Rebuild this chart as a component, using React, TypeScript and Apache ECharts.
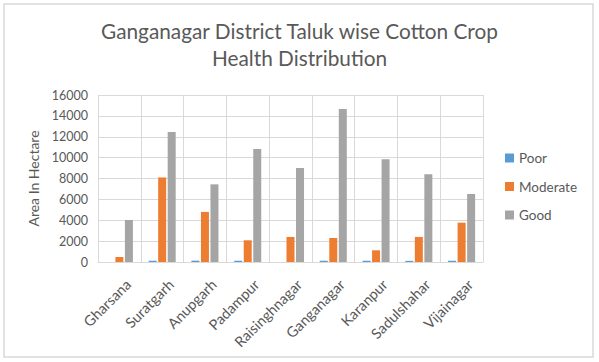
import React, { useEffect, useRef } from "react";
import * as echarts from "echarts";

const categories = ["Gharsana", "Suratgarh", "Anupgarh", "Padampur", "Raisinghnagar", "Ganganagar", "Karanpur", "Sadulshahar", "Vijainagar"];
const poor = [0, 120, 130, 120, 0, 120, 120, 110, 120];
const moderate = [480, 8100, 4800, 2080, 2400, 2300, 1120, 2400, 3770];
const good = [4020, 12460, 7440, 10830, 9010, 14660, 9840, 8400, 6520];
const yTicks = { min: 0, max: 16000, interval: 2000 };

const FONT = "Lato, 'Open Sans', sans-serif";
const TXT = "#595959";
const GRID = "#d9d9d9";

export default function App() {
  const ref = useRef<HTMLDivElement>(null);
  useEffect(() => {
    const chart = echarts.init(ref.current!, null, { renderer: "svg" });
    chart.setOption({
      animation: false,
      backgroundColor: "#ffffff",
      textStyle: { fontFamily: FONT },
      title: {
        text: "Ganganagar District Taluk wise Cotton Crop\nHealth Distribution",
        left: "center",
        top: 12,
        textStyle: { fontFamily: FONT, fontSize: 20.8, fontWeight: "normal", color: TXT, lineHeight: 26.7 },
      },
      graphic: [
        {
          type: "rect",
          shape: { x: 4, y: 4, width: 589, height: 353 },
          style: { fill: "none", stroke: GRID, lineWidth: 1.5 },
          silent: true,
        },
      ],
      legend: {
        orient: "vertical",
        left: 500,
        top: 146,
        icon: "rect",
        itemWidth: 9,
        itemHeight: 9,
        itemGap: 14.5,
        itemTextGap: 5,
        textStyle: { fontFamily: FONT, fontSize: 13.5, color: TXT },
        data: ["Poor", "Moderate", "Good"],
      },
      grid: { left: 98, right: 116, top: 95, bottom: 100, containLabel: false },
      xAxis: {
        type: "category",
        data: categories,
        boundaryGap: true,
        axisLine: { show: true, lineStyle: { color: GRID, width: 1 } },
        axisTick: { show: false },
        splitLine: { show: true, lineStyle: { color: GRID, width: 1 } },
        axisLabel: {
          rotate: 45,
          interval: 0,
          margin: 11,
          verticalAlign: "top",
          padding: [5, 0, 0, 0],
          fontFamily: FONT,
          fontSize: 14.5,
          color: TXT,
        },
      },
      yAxis: {
        type: "value",
        min: yTicks.min,
        max: yTicks.max,
        interval: yTicks.interval,
        name: "Area In Hectare",
        nameLocation: "middle",
        nameRotate: 90,
        nameGap: 58,
        nameTextStyle: { fontFamily: FONT, fontSize: 14, color: TXT },
        axisLine: { show: false },
        axisTick: { show: false },
        splitLine: { show: true, lineStyle: { color: GRID, width: 1 } },
        axisLabel: { margin: 10, fontFamily: FONT, fontSize: 12.5, color: TXT, formatter: (v: number) => String(v) },
      },
      series: [
        { name: "Poor", type: "bar", data: poor, barWidth: 8, barGap: "19%", itemStyle: { color: "#5B9BD5" } },
        { name: "Moderate", type: "bar", data: moderate, barWidth: 8, barGap: "19%", itemStyle: { color: "#ED7D31" } },
        { name: "Good", type: "bar", data: good, barWidth: 8, barGap: "19%", itemStyle: { color: "#A5A5A5" } },
      ],
    });
    return () => chart.dispose();
  }, []);
  return <div ref={ref} style={{ position: "fixed", left: 0, top: 0, width: 599, height: 362 }} />;
}
